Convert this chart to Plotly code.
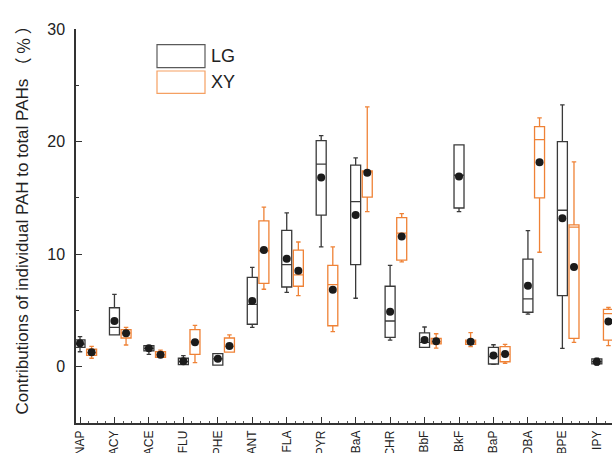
import plotly.graph_objects as go

categories = ["NAP", "ACY", "ACE", "FLU", "PHE", "ANT", "FLA", "PYR",
              "BaA", "CHR", "BbF", "BkF", "BaP", "DBA", "BPE", "IPY"]

# LG series statistics (% of total PAHs)
lg_lower = [1.33, 2.82, 1.10, 0.18, 0.15, 3.50, 6.61, 10.64, 6.08, 2.37, 1.72, 13.78, 0.20, 4.68, 1.63, 0.15]
lg_q1    = [1.72, 2.82, 1.40, 0.18, 0.15, 3.77, 7.08, 13.46, 9.07, 2.61, 1.72, 14.10, 0.24, 4.84, 6.31, 0.25]
lg_med   = [2.00, 3.50, 1.63, 0.45, 0.70, 5.54, 9.07, 17.99, 14.67, 4.06, 2.17, 17.01, 0.90, 6.02, 13.90, 0.45]
lg_q3    = [2.38, 5.24, 1.87, 0.75, 1.16, 7.94, 12.12, 20.09, 17.90, 7.15, 3.00, 19.71, 1.72, 9.55, 20.00, 0.70]
lg_upper = [2.67, 6.43, 1.87, 0.98, 1.16, 8.83, 13.66, 20.53, 18.55, 9.01, 3.53, 19.71, 1.95, 12.09, 23.26, 0.75]
lg_mean  = [2.08, 4.06, 1.63, 0.48, 0.71, 5.84, 9.60, 16.80, 13.48, 4.89, 2.37, 16.89, 1.00, 7.20, 13.19, 0.44]

# XY series statistics
xy_lower = [0.75, 1.93, 0.84, 0.36, 1.30, 6.88, 6.31, 3.11, 13.78, 9.31, 1.66, 1.78, 0.30, 10.17, 2.17, 1.88]
xy_q1    = [1.01, 2.55, 0.84, 1.10, 1.30, 7.41, 7.15, 3.64, 15.06, 9.46, 2.02, 1.99, 0.44, 14.99, 2.52, 2.37]
xy_med   = [1.25, 3.00, 1.05, 2.20, 1.80, 10.30, 8.15, 7.29, 17.30, 11.86, 2.20, 2.20, 1.10, 20.18, 12.40, 4.72]
xy_q3    = [1.55, 3.29, 1.33, 3.29, 2.55, 12.95, 10.35, 9.01, 17.40, 13.24, 2.52, 2.37, 1.78, 21.33, 12.60, 5.10]
xy_upper = [1.81, 3.50, 1.48, 3.68, 2.82, 14.17, 11.08, 10.64, 23.08, 13.60, 2.93, 3.02, 1.99, 22.10, 18.20, 5.26]
xy_mean  = [1.28, 2.97, 1.07, 2.17, 1.84, 10.37, 8.53, 6.84, 17.24, 11.56, 2.26, 2.22, 1.13, 18.17, 8.86, 4.02]

series_names = ["LG", "XY"]
y_ticks = [0, 10, 20, 30]
y_title_main = "Contributions of individual PAH to total PAHs"
y_title_unit = "（ % ）"

LG_COLOR = "#3a3a3a"
XY_COLOR = "#ef8236"
offset = 0.337
bw = 0.29

pos_lg = list(range(len(categories)))
pos_xy = [p + offset for p in pos_lg]

fig = go.Figure()
for name, pos, lo, q1, md, q3, hi, color in [
    (series_names[0], pos_lg, lg_lower, lg_q1, lg_med, lg_q3, lg_upper, LG_COLOR),
    (series_names[1], pos_xy, xy_lower, xy_q1, xy_med, xy_q3, xy_upper, XY_COLOR),
]:
    fig.add_trace(go.Box(
        x=pos, q1=q1, median=md, q3=q3, lowerfence=lo, upperfence=hi,
        name=name, width=bw, whiskerwidth=0.45, boxpoints=False,
        line=dict(color=color, width=1.3), fillcolor="rgba(0,0,0,0)",
        showlegend=False, hoverinfo="skip",
    ))

for pos, mean in [(pos_lg, lg_mean), (pos_xy, xy_mean)]:
    fig.add_trace(go.Scatter(
        x=pos, y=mean, mode="markers",
        marker=dict(color="#1b1b1b", size=8),
        showlegend=False, hoverinfo="skip", cliponaxis=False,
    ))

W, H = 612, 453
ml, mr, mt, mb = 76, 0, 29, 30
pw, ph = W - ml - mr, H - mt - mb

def px(x):
    return (x - ml) / pw

def py(y):
    return (H - mb - y) / ph

# manual legend
legend_items = [(series_names[0], "#5a5a5a", 44.7, 67.7), (series_names[1], "#f5a062", 71, 93.3)]
for name, col, y0, y1 in legend_items:
    fig.add_shape(type="rect", xref="paper", yref="paper",
                  x0=px(157), x1=px(205), y0=py(y1), y1=py(y0),
                  line=dict(color=col, width=1.2), fillcolor="rgba(0,0,0,0)")
    fig.add_annotation(xref="paper", yref="paper", x=px(209), y=py((y0 + y1) / 2),
                       text=name, showarrow=False, xanchor="left", yanchor="middle",
                       font=dict(family="Liberation Sans, Arial", size=18, color="#222"))

# y-axis title as rotated annotations
fig.add_annotation(xref="paper", yref="paper", x=px(22), y=py(246.5), text=y_title_main,
                   textangle=-90, showarrow=False, xanchor="center", yanchor="middle",
                   font=dict(family="Liberation Sans, Arial", size=17, color="#222"))
fig.add_annotation(xref="paper", yref="paper", x=px(22), y=py(46.5), text=y_title_unit,
                   textangle=-90, showarrow=False, xanchor="center", yanchor="middle",
                   font=dict(family="Noto Sans CJK SC", size=17, color="#222"))

fig.update_layout(
    width=W, height=H,
    margin=dict(l=ml, r=mr, t=mt, b=mb, pad=0),
    paper_bgcolor="white", plot_bgcolor="white",
    boxmode="overlay",
    font=dict(family="Liberation Sans, Arial", color="#222"),
)

fig.update_xaxes(
    range=[-0.116, 15.44], automargin=False,
    tickmode="array", tickvals=pos_lg, ticktext=categories,
    tickangle=-90, tickfont=dict(size=12, color="#222"),
    ticks="inside", ticklen=6, tickwidth=1, tickcolor="#333",
    ticklabelstandoff=1,
    minor=dict(tickmode="linear", tick0=0, dtick=0.25, ticks="inside", ticklen=2, tickcolor="#555"),
    showline=True, linecolor="#333", linewidth=1.5,
    showgrid=False, zeroline=False,
)
fig.update_yaxes(
    range=[-5, 30], automargin=False,
    tickmode="array", tickvals=y_ticks,
    tickfont=dict(size=16, color="#222"),
    ticks="inside", ticklen=6, tickwidth=1.2, tickcolor="#333",
    minor=dict(tickmode="linear", tick0=0, dtick=5, ticks="inside", ticklen=3, tickcolor="#333"),
    showline=True, linecolor="#333", linewidth=1.5,
    showgrid=False, zeroline=False,
    ticklabelstandoff=6,
)

fig.write_html("out.html", config={"displayModeBar": False},
               post_script="document.body.style.margin='0';document.body.style.overflow='hidden';")
